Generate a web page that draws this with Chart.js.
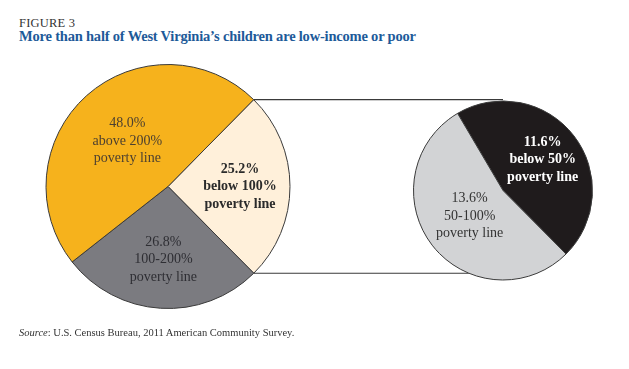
<!DOCTYPE html>
<html>
<head>
<meta charset="utf-8">
<script src="https://cdn.jsdelivr.net/npm/chart.js@4"></script>
<style>
  body { margin: 0; background: #fff; }
  #wrap { position: relative; width: 629px; height: 369px; font-family: "Liberation Serif", serif; }
  canvas { position: absolute; left: 0; top: 0; }
  #fig { position: absolute; left: 19px; top: 16px; font-size: 12.5px; color: #333; letter-spacing: 0.2px; }
  #title { position: absolute; left: 19px; top: 28px; font-size: 14.5px; letter-spacing: -0.2px; font-weight: bold; color: #1d5a99; white-space: nowrap; }
  #source { position: absolute; left: 19px; top: 327px; font-size: 10.5px; color: #333; white-space: nowrap; }
</style>
</head>
<body>
<div id="wrap">
  <div id="fig">FIGURE 3</div>
  <div id="title">More than half of West Virginia’s children are low-income or poor</div>
  <canvas id="mainPie" width="629" height="369"></canvas>
  <canvas id="detailPie" width="629" height="369"></canvas>
  <div id="source"><i>Source</i>: U.S. Census Bureau, 2011 American Community Survey.</div>
</div>
<script>
// main pie: all West Virginia children
const mainLabels = [["below 100%", "poverty line"], ["100-200%", "poverty line"], ["above 200%", "poverty line"]];
const mainValues = [25.2, 26.8, 48.0];
// detail pie: breakdown of the below-100% slice
const detailLabels = [["below 50%", "poverty line"], ["50-100%", "poverty line"]];
const detailValues = [11.6, 13.6];

const mainColors = ["#fff0da", "#7b7b80", "#f6b21c"];
const mainText = ["#2b2b2b", "#2e2e33", "#4d4030"];
const mainBold = [true, false, false];
const mainPos = [0.59, 0.6, 0.5];

const detailColors = ["#1f1b1c", "#d2d3d5"];
const detailText = ["#ffffff", "#333333"];
const detailBold = [true, false];
const detailPos = [0.56, 0.47];

// draws "xx.x%" plus the label lines inside each slice
const sliceText = {
  id: "sliceText",
  afterDatasetsDraw(chart, args, opts) {
    const ctx = chart.ctx;
    const meta = chart.getDatasetMeta(0);
    const values = chart.data.datasets[0].data;
    meta.data.forEach((arc, i) => {
      const p = arc.getProps(["x", "y", "startAngle", "endAngle", "outerRadius"]);
      const mid = (p.startAngle + p.endAngle) / 2;
      const r = p.outerRadius * opts.pos[i];
      const cx = p.x + Math.cos(mid) * r;
      const cy = p.y + Math.sin(mid) * r;
      const lines = [values[i].toFixed(1) + "%"].concat(chart.data.labels[i]);
      ctx.save();
      ctx.font = (opts.bold[i] ? "bold " : "") + "14px 'Liberation Serif', serif";
      ctx.fillStyle = opts.colors[i];
      ctx.textAlign = "center";
      ctx.textBaseline = "middle";
      lines.forEach((t, j) => {
        ctx.fillText(t, cx, cy + (j - (lines.length - 1) / 2) * 17.5);
      });
      ctx.restore();
    });
  }
};

const mainChart = new Chart(document.getElementById("mainPie"), {
  type: "pie",
  data: {
    labels: mainLabels,
    datasets: [{
      data: mainValues,
      backgroundColor: mainColors,
      borderColor: "#3a3a3a",
      borderWidth: 1
    }]
  },
  options: {
    responsive: false,
    animation: false,
    rotation: 44.6,
    layout: { padding: { left: 45, top: 64, right: 338, bottom: 60 } },
    plugins: {
      legend: { display: false },
      tooltip: { enabled: false },
      sliceText: { pos: mainPos, colors: mainText, bold: mainBold }
    }
  },
  plugins: [sliceText]
});

// lines from the edges of the below-100% slice across to the detail pie
const connectors = {
  id: "connectors",
  beforeDatasetsDraw(chart) {
    const src = mainChart.getDatasetMeta(0).data[0];
    const a = src.getProps(["x", "y", "startAngle", "endAngle", "outerRadius"]);
    const d = chart.getDatasetMeta(0).data[0].getProps(["x", "y", "outerRadius"]);
    const ctx = chart.ctx;
    ctx.save();
    ctx.strokeStyle = "#3a3a3a";
    ctx.lineWidth = 1.2;
    [a.startAngle, a.endAngle].forEach(ang => {
      const x0 = a.x + Math.cos(ang) * a.outerRadius;
      const y0 = a.y + Math.sin(ang) * a.outerRadius;
      const dy = y0 - d.y;
      const x1 = d.x - Math.sqrt(Math.max(0, d.outerRadius * d.outerRadius - dy * dy));
      ctx.beginPath();
      ctx.moveTo(x0, y0);
      ctx.lineTo(x1, y0);
      ctx.stroke();
    });
    ctx.restore();
  }
};

const detailChart = new Chart(document.getElementById("detailPie"), {
  type: "pie",
  data: {
    labels: detailLabels,
    datasets: [{
      data: detailValues,
      backgroundColor: detailColors,
      borderColor: "#3a3a3a",
      borderWidth: 1
    }]
  },
  options: {
    responsive: false,
    animation: false,
    rotation: -30.5,
    layout: { padding: { left: 413, top: 100, right: 36, bottom: 88 } },
    plugins: {
      legend: { display: false },
      tooltip: { enabled: false },
      sliceText: { pos: detailPos, colors: detailText, bold: detailBold }
    }
  },
  plugins: [connectors, sliceText]
});
</script>
</body>
</html>
